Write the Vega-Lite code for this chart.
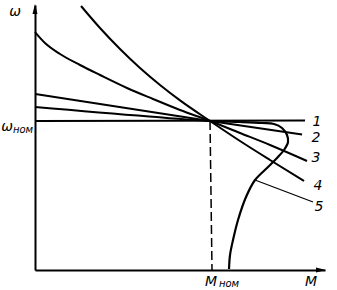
{
  "$schema": "https://vega.github.io/schema/vega-lite/v6.json",
  "width": 290,
  "height": 265,
  "autosize": {"type": "none"},
  "padding": {"left": 35, "top": 5, "right": 12, "bottom": 20},
  "background": "white",
  "config": {"view": {"stroke": null}},
  "datasets": {
    "curves": [
      {"series": "1", "i": 0, "M": 0, "w": 1.0},
      {"series": "1", "i": 1, "M": 1.543, "w": 1.004},
      {"series": "2", "i": 0, "M": 0, "w": 1.181},
      {"series": "2", "i": 1, "M": 1.0, "w": 1.0},
      {"series": "2", "i": 2, "M": 1.526, "w": 0.91},
      {"series": "3", "i": 0, "M": 0, "w": 1.597},
      {"series": "3", "i": 1, "M": 0.0571, "w": 1.5235},
      {"series": "3", "i": 2, "M": 0.1429, "w": 1.4497},
      {"series": "3", "i": 3, "M": 0.2571, "w": 1.3758},
      {"series": "3", "i": 4, "M": 0.3714, "w": 1.3087},
      {"series": "3", "i": 5, "M": 0.5257, "w": 1.2215},
      {"series": "3", "i": 6, "M": 0.6743, "w": 1.1477},
      {"series": "3", "i": 7, "M": 0.8286, "w": 1.0738},
      {"series": "3", "i": 8, "M": 1.0, "w": 1.0},
      {"series": "3", "i": 9, "M": 1.1714, "w": 0.9195},
      {"series": "3", "i": 10, "M": 1.3429, "w": 0.8389},
      {"series": "3", "i": 11, "M": 1.5543, "w": 0.7315},
      {"series": "4", "i": 0, "M": 0.2629, "w": 1.7718},
      {"series": "4", "i": 1, "M": 0.3714, "w": 1.6242},
      {"series": "4", "i": 2, "M": 0.4857, "w": 1.4832},
      {"series": "4", "i": 3, "M": 0.6, "w": 1.3557},
      {"series": "4", "i": 4, "M": 0.7143, "w": 1.2416},
      {"series": "4", "i": 5, "M": 0.8286, "w": 1.1383},
      {"series": "4", "i": 6, "M": 1.0, "w": 1.0},
      {"series": "4", "i": 7, "M": 1.1714, "w": 0.8658},
      {"series": "4", "i": 8, "M": 1.3429, "w": 0.7383},
      {"series": "4", "i": 9, "M": 1.5371, "w": 0.5973},
      {"series": "5", "i": 0, "M": 0, "w": 1.094},
      {"series": "5", "i": 1, "M": 1.0, "w": 1.0},
      {"series": "5", "i": 2, "M": 1.1714, "w": 0.9933},
      {"series": "5", "i": 3, "M": 1.2971, "w": 0.9866},
      {"series": "5", "i": 4, "M": 1.3657, "w": 0.9799},
      {"series": "5", "i": 5, "M": 1.4114, "w": 0.953},
      {"series": "5", "i": 6, "M": 1.44, "w": 0.906},
      {"series": "5", "i": 7, "M": 1.4457, "w": 0.859},
      {"series": "5", "i": 8, "M": 1.4229, "w": 0.8054},
      {"series": "5", "i": 9, "M": 1.3829, "w": 0.7517},
      {"series": "5", "i": 10, "M": 1.3257, "w": 0.6846},
      {"series": "5", "i": 11, "M": 1.2571, "w": 0.604},
      {"series": "5", "i": 12, "M": 1.2057, "w": 0.4899},
      {"series": "5", "i": 13, "M": 1.16, "w": 0.3356},
      {"series": "5", "i": 14, "M": 1.1314, "w": 0.2013},
      {"series": "5", "i": 15, "M": 1.1143, "w": 0.1007},
      {"series": "5", "i": 16, "M": 1.1086, "w": 0.0067}
    ],
    "leader": [
      {"i": 0, "M": 1.2571, "w": 0.604},
      {"i": 1, "M": 1.5886, "w": 0.4564}
    ],
    "nominal": [
      {"i": 0, "M": 1.0, "w": 1.0},
      {"i": 1, "M": 1.0114, "w": 0.0}
    ],
    "labels": [
      {"label": "ω", "M": -0.114, "w": 1.7315},
      {"label": "ω", "M": -0.16, "w": 0.9597},
      {"label": "M", "M": 1.0057, "w": -0.0805},
      {"label": "M", "M": 1.577, "w": -0.0805},
      {"label": "1", "M": 1.611, "w": 0.9933},
      {"label": "2", "M": 1.606, "w": 0.886},
      {"label": "3", "M": 1.606, "w": 0.7517},
      {"label": "4", "M": 1.617, "w": 0.5638},
      {"label": "5", "M": 1.623, "w": 0.4228}
    ],
    "subs": [
      {"label": "ном", "M": -0.0686, "w": 0.9396},
      {"label": "ном", "M": 1.1086, "w": -0.094}
    ],
    "yarrow": [{"M": 0, "w": 1.7517}],
    "xarrow": [{"M": 1.634, "w": 0}]
  },
  "encoding": {
    "x": {
      "field": "M",
      "type": "quantitative",
      "scale": {"domain": [0, 1.657], "nice": false, "zero": false},
      "axis": {"title": null, "ticks": false, "labels": false, "grid": false, "domainColor": "#000000", "domainWidth": 2}
    },
    "y": {
      "field": "w",
      "type": "quantitative",
      "scale": {"domain": [0, 1.7785], "nice": false, "zero": false},
      "axis": {"title": null, "ticks": false, "labels": false, "grid": false, "domainColor": "#000000", "domainWidth": 2}
    }
  },
  "layer": [
    {
      "data": {"name": "curves"},
      "transform": [{"filter": "datum.series !== '5'"}],
      "mark": {"type": "line", "interpolate": "monotone", "color": "#000000", "strokeWidth": 2},
      "encoding": {"detail": {"field": "series"}, "order": {"field": "i", "type": "quantitative"}}
    },
    {
      "data": {"name": "curves"},
      "transform": [{"filter": "datum.series === '5'"}],
      "mark": {"type": "line", "interpolate": "catmull-rom", "color": "#000000", "strokeWidth": 2.2},
      "encoding": {"detail": {"field": "series"}, "order": {"field": "i", "type": "quantitative"}}
    },
    {
      "data": {"name": "leader"},
      "mark": {"type": "line", "color": "#000000", "strokeWidth": 1.2},
      "encoding": {"order": {"field": "i", "type": "quantitative"}}
    },
    {
      "data": {"name": "nominal"},
      "mark": {"type": "line", "color": "#000000", "strokeWidth": 1.5, "strokeDash": [9, 4]},
      "encoding": {"order": {"field": "i", "type": "quantitative"}}
    },
    {
      "data": {"name": "yarrow"},
      "mark": {"type": "point", "shape": "M0,-1L-0.5,1L0.5,1Z", "size": 100, "filled": true, "color": "#000000", "opacity": 1}
    },
    {
      "data": {"name": "xarrow"},
      "mark": {"type": "point", "shape": "M1,0L-1,-0.5L-1,0.5Z", "size": 100, "filled": true, "color": "#000000", "opacity": 1}
    },
    {
      "data": {"name": "labels"},
      "mark": {"type": "text", "font": "DejaVu Sans", "fontStyle": "italic", "fontSize": 14, "align": "center", "baseline": "middle", "color": "#000000"},
      "encoding": {"text": {"field": "label"}}
    },
    {
      "data": {"name": "subs"},
      "mark": {"type": "text", "font": "DejaVu Sans", "fontStyle": "italic", "fontSize": 10, "align": "center", "baseline": "middle", "color": "#000000"},
      "encoding": {"text": {"field": "label"}}
    }
  ]
}
